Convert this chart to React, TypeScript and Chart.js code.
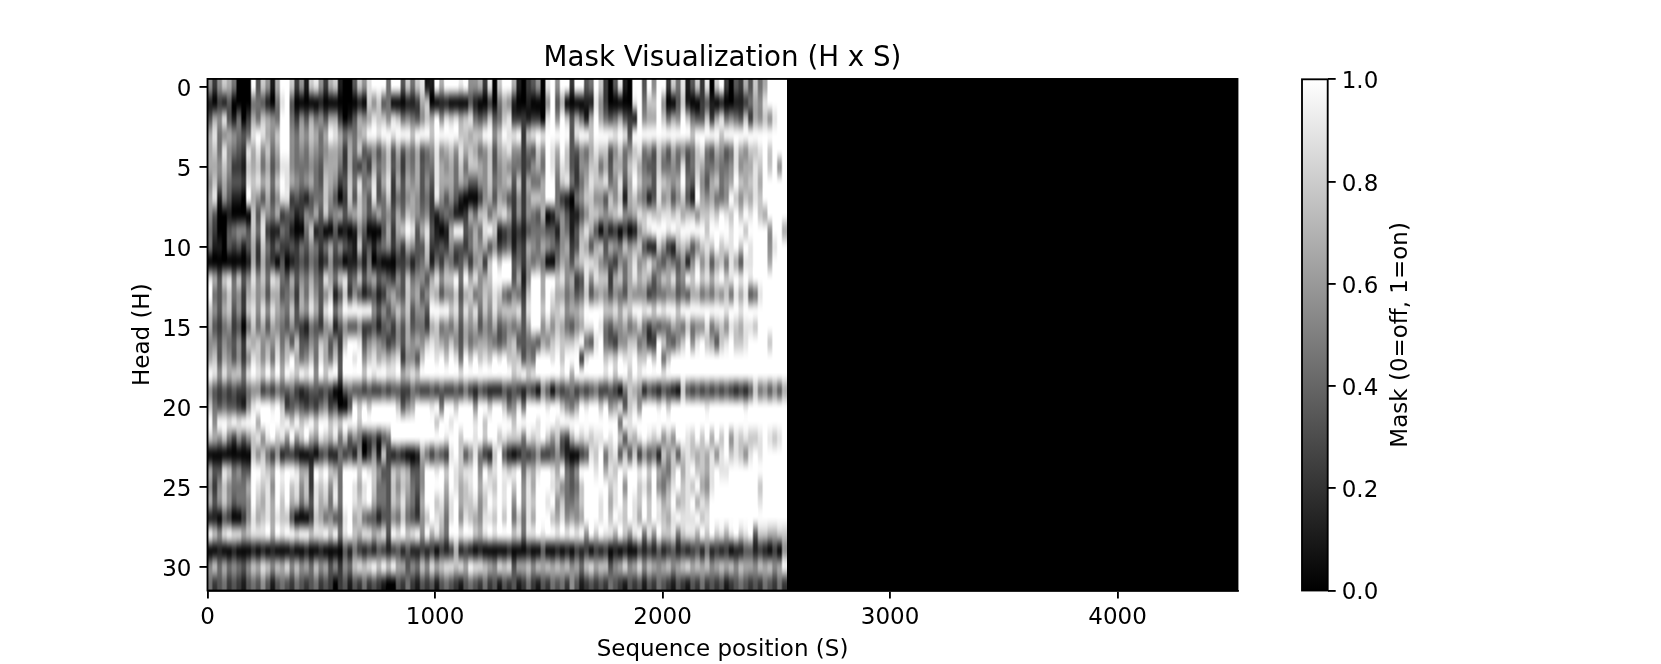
import React, { useEffect, useRef } from "react";
import { Chart, registerables } from "chart.js";

Chart.register(...registerables);

const FONT = "'DejaVu Sans', sans-serif";
const titleText = "Mask Visualization (H x S)";
const xLabel = "Sequence position (S)";
const yLabel = "Head (H)";
const barLabel = "Mask (0=off, 1=on)";
const xTicks = [0, 1000, 2000, 3000, 4000];
const yTicks = [0, 5, 10, 15, 20, 25, 30];
const barTicks = [0, 0.2, 0.4, 0.6, 0.8, 1];
const sequenceLength = 4527;
const activeLength = 2546;

// one row per head, each digit is mask value x 9, columns span 0..activeLength
const maskRows = [
  "5257640009 3751699725 1785267100 3758999499 3747811969 9989556280 7996102350 8959929934 9720381099 3959927481 3728079203 2637469999",
  "1021300004 4310489300 0001000000 0107573400 0112670011 0000310020 4651001000 5936000011 8520000089 4779500371 0023101001 1246589999",
  "3658314026 4765499425 3645366201 3656877587 4543576958 7867843473 4782221220 8959736416 9643463219 5669746597 4337268454 3726575899",
  "6845654348 9865799546 5764698645 4679989989 9979997999 9977677995 7988927898 9999938997 9999898399 9999999999 7999997999 9999999999",
  "6748543286 8574699545 4654566526 4734535736 3546345856 7586764573 6785524375 9869733546 8773574578 4537536453 4784365348 6577897999",
  "6657522176 7463588544 4543666426 3242645735 2546344865 6474776573 5654423564 9858732557 7463664786 4337445483 4764454458 5668797959",
  "5746433287 8674798654 5643765237 4845836826 3656353866 6465335574 5673726446 9947842468 7784583697 5538765694 3853674569 7678699999",
  "6815311096 5363588232 1344753027 3753834724 3565342853 5310002563 6532525776 9942104577 5537571675 4138563573 1965644597 5768799999",
  "5300100007 3754623312 5463745635 6753464536 4765452134 3112647746 7862525436 0145311357 7656785568 7877887867 7577879879 7989769999",
  "4200345537 4821143100 4712003010 1530003626 7983683101 6993464897 1231213444 3315413686 3031202015 7899989899 9997999989 9799995996",
  "4110323136 2742422324 3542463532 1723134524 2653372232 5332465635 2341326546 5435623763 6736547567 3117521676 3578797889 7989995899",
  "0000000016 2632030123 2431252201 1314010002 2313461425 4235256279 7993425454 0046536788 7543254685 6864354351 5857367486 3889996999",
  "8637847358 5748743635 4643864783 4735634325 3745536857 7949685679 9993615996 9978562385 8772674686 7635768459 7978689789 8989999999",
  "9435745267 5636634526 4753571372 5312312564 3756357635 5736745768 7435427996 9866453473 5653543655 5234455343 6645465748 6834899999",
  "7536735278 5858654736 5863894699 9999535357 5735539999 7848684758 6777838997 9778566799 9977868799 8979899799 9999999899 8999999999",
  "6324523047 4636543532 1432561353 3522313425 3634426745 4636563546 3454536995 7576435688 9843556457 4243446547 4558467587 6887999999",
  "5535435276 7565746373 3547635279 9835654235 3656578765 7536456654 3467334436 5787778943 8943255774 5229743579 5897637897 7899997999",
  "6736535258 7574857964 5748647399 8957867678 2553799897 9849797879 8977735499 9897999289 9978798897 7979479999 9999999999 9999999999",
  "9858677489 8797969879 8959799399 9979899889 6787999999 9989999999 9997897899 9998969999 9989799798 9999899999 9999999999 9999999999",
  "5323232245 5232433421 2332320034 3323223233 2243223232 2324213211 1323213205 3032342323 4223204765 1321321073 2323232321 2137453536",
  "7434332158 9998972343 2324523003 9797999997 3569998949 9799959979 9745849999 8997546989 9795683785 9998979999 9998999999 9899999999",
  "9599898999 6999989797 8979978799 9799999999 9999999799 8999989799 9997999989 9989999999 9999949899 9999999999 9999999999 9999999999",
  "7657425357 8589785957 9658768473 5412313499 9999999998 9979989799 7877748789 7573268787 8898973768 9878575998 7979697958 7877898789",
  "0000000007 5742512210 0102311423 1502517212 1001642432 8973584217 9310132352 2353100238 7947837372 5341757378 7676858978 7589899999",
  "6338745339 9876989986 6298976499 9798753376 7633599897 9878895978 9878947689 9869435999 8968798998 9796547968 9776898899 9999999999",
  "5257544469 8785989785 7287858499 8689744375 7643599996 9867896887 9897958699 9875434799 9997895997 8695468978 7965899999 9999799999",
  "6357534459 7686979674 6386748499 8789644376 8542699785 8967785798 9895958799 8957445799 9896897987 9798679678 9687999999 9999899999",
  "1103200258 6786877300 0276453389 6743313354 7432579874 8958765887 9794748699 9768565699 9897987986 9798768988 8978999999 9999999999",
  "9758988678 8896989989 9788979489 7688678398 9789596864 9989976898 9997848898 9989898959 7988697589 4859778478 8697978689 7893776677",
  "0010010001 0101000100 1001000031 4212132123 1311212021 2612101000 0010001003 0010102120 2120101002 1213123121 2314121201 1331210205",
  "5746454357 6875768575 6475635254 7878979796 6354758678 8786988765 8783667576 7676756478 6773568568 5765675678 6767567675 7665767569",
  "4234232134 3531343243 2342320231 3242321003 2421323134 3213432423 1323124213 2434253123 2324321323 1324321321 3242323123 4323243242",
];

const rowDigits = maskRows.map((r) => r.replace(/ /g, ""));
const colCount = rowDigits[0].length;
const colWidth = activeLength / colCount;
const cells = rowDigits.flatMap((r, y) =>
  r.split("").map((d, c) => ({ x: (c + 0.5) * colWidth, y, v: Number(d) / 9 }))
);

const heatmapPlugin = {
  id: "heatmap",
  beforeDatasetsDraw(chart: any) {
    const { ctx, chartArea, scales } = chart;
    const pts = chart.data.datasets[0].data;
    const hRepeat = 3;
    const off = document.createElement("canvas");
    off.width = colCount * hRepeat;
    off.height = rowDigits.length;
    const oc = off.getContext("2d")!;
    for (const p of pts) {
      const g = Math.round(p.v * 255);
      oc.fillStyle = `rgb(${g},${g},${g})`;
      oc.fillRect(Math.round(p.x / colWidth - 0.5) * hRepeat, p.y, hRepeat, 1);
    }
    const left = scales.x.getPixelForValue(0);
    const mid = scales.x.getPixelForValue(activeLength);
    const right = scales.x.getPixelForValue(sequenceLength);
    const top = scales.y.getPixelForValue(-0.5);
    const bottom = scales.y.getPixelForValue(rowDigits.length - 0.5);
    ctx.save();
    ctx.beginPath();
    ctx.rect(chartArea.left, chartArea.top, chartArea.width, chartArea.height);
    ctx.clip();
    ctx.fillStyle = "#000";
    ctx.fillRect(mid, top, right - mid, bottom - top);
    ctx.imageSmoothingEnabled = true;
    ctx.imageSmoothingQuality = "high";
    ctx.drawImage(off, left, top, mid - left, bottom - top);
    ctx.restore();
  },
};

const framePlugin = {
  id: "frame",
  afterDraw(chart: any) {
    const { ctx, chartArea: a } = chart;
    ctx.save();
    ctx.strokeStyle = "#000";
    ctx.lineWidth = 1.85;
    ctx.strokeRect(a.left, a.top, a.right - a.left, a.bottom - a.top);
    ctx.restore();
  },
};

const barLabelPlugin = {
  id: "barLabel",
  afterDraw(chart: any) {
    const { ctx, chartArea: a } = chart;
    ctx.save();
    ctx.translate(111.5, (a.top + a.bottom) / 2);
    ctx.rotate(-Math.PI / 2);
    ctx.font = `23px ${FONT}`;
    ctx.fillStyle = "#000";
    ctx.textAlign = "center";
    ctx.textBaseline = "middle";
    ctx.fillText(barLabel, 0, 0);
    ctx.restore();
  },
};

export default function App() {
  const mainRef = useRef<HTMLCanvasElement>(null);
  const barRef = useRef<HTMLCanvasElement>(null);

  useEffect(() => {
    const tickStyle = {
      color: "#000",
      font: { family: FONT, size: 23 },
      maxRotation: 0,
      autoSkip: false,
      callback: (v: any) => String(v),
    };
    const gridStyle = {
      drawOnChartArea: false,
      drawTicks: true,
      tickLength: 8,
      tickWidth: 1.85,
      tickColor: "#000",
      lineWidth: 1.85,
    };
    const main = new Chart(mainRef.current!, {
      type: "scatter",
      data: {
        datasets: [{ label: "Mask", data: cells as any, pointRadius: 0, showLine: false }],
      },
      plugins: [heatmapPlugin, framePlugin],
      options: {
        animation: false,
        responsive: false,
        layout: { padding: { top: 0, left: 0, right: 52.5, bottom: 0 } },
        plugins: {
          legend: { display: false },
          tooltip: { enabled: false },
          title: {
            display: true,
            text: titleText,
            color: "#000",
            fullSize: false,
            font: { family: FONT, size: 27.7, weight: "normal" },
            padding: { top: 42.2, bottom: 3.5 },
          },
        },
        scales: {
          x: {
            type: "linear",
            min: 0,
            max: sequenceLength,
            border: { display: true, color: "#000", width: 1.85 },
            grid: gridStyle,
            afterBuildTicks: (s: any) => {
              s.ticks = xTicks.map((value) => ({ value }));
            },
            afterFit: (s: any) => {
              s.height = 73.5;
            },
            ticks: { ...tickStyle, padding: 6 },
            title: {
              display: true,
              text: xLabel,
              color: "#000",
              font: { family: FONT, size: 23 },
              padding: { top: 4, bottom: 0 },
            },
          },
          y: {
            type: "linear",
            reverse: true,
            min: -0.5,
            max: 31.5,
            border: { display: true, color: "#000", width: 1.85 },
            grid: gridStyle,
            afterBuildTicks: (s: any) => {
              s.ticks = yTicks.map((value) => ({ value }));
            },
            afterFit: (s: any) => {
              s.width = 207.5;
            },
            ticks: { ...tickStyle, padding: 8, labelOffset: 3.5 },
            title: {
              display: true,
              text: yLabel,
              color: "#000",
              font: { family: FONT, size: 23 },
              padding: { top: 129, bottom: 0 },
            },
          },
        },
      },
    } as any);

    const bar = new Chart(barRef.current!, {
      type: "bar",
      data: {
        labels: ["Mask"],
        datasets: [
          {
            data: [[barTicks[0], barTicks[barTicks.length - 1]]] as any,
            barPercentage: 1,
            categoryPercentage: 1,
            backgroundColor: (c: any) => {
              const a = c.chart.chartArea;
              if (!a) return "#888";
              const g = c.chart.ctx.createLinearGradient(0, a.bottom, 0, a.top);
              g.addColorStop(0, "#000");
              g.addColorStop(1, "#fff");
              return g;
            },
          },
        ],
      },
      plugins: [framePlugin, barLabelPlugin],
      options: {
        animation: false,
        responsive: false,
        layout: { padding: { top: 79.3, left: 12, right: 0, bottom: 73.5 } },
        plugins: { legend: { display: false }, tooltip: { enabled: false } },
        scales: {
          x: { display: false },
          y: {
            type: "linear",
            position: "right",
            min: 0,
            max: 1,
            border: { display: false },
            grid: gridStyle,
            afterBuildTicks: (s: any) => {
              s.ticks = barTicks.map((value) => ({ value }));
            },
            afterFit: (s: any) => {
              s.width = 333.3;
            },
            ticks: {
              ...tickStyle,
              padding: 6,
              labelOffset: 3,
              callback: (v: any) => Number(v).toFixed(1),
            },
          },
        },
      },
    } as any);

    return () => {
      main.destroy();
      bar.destroy();
    };
  }, []);

  return (
    <div style={{ position: "absolute", left: 0, top: 0, width: 1661, height: 664, background: "#fff" }}>
      <canvas ref={mainRef} width={1290} height={664} style={{ position: "absolute", left: 0, top: 0 }} />
      <canvas ref={barRef} width={371} height={664} style={{ position: "absolute", left: 1290, top: 0 }} />
    </div>
  );
}
